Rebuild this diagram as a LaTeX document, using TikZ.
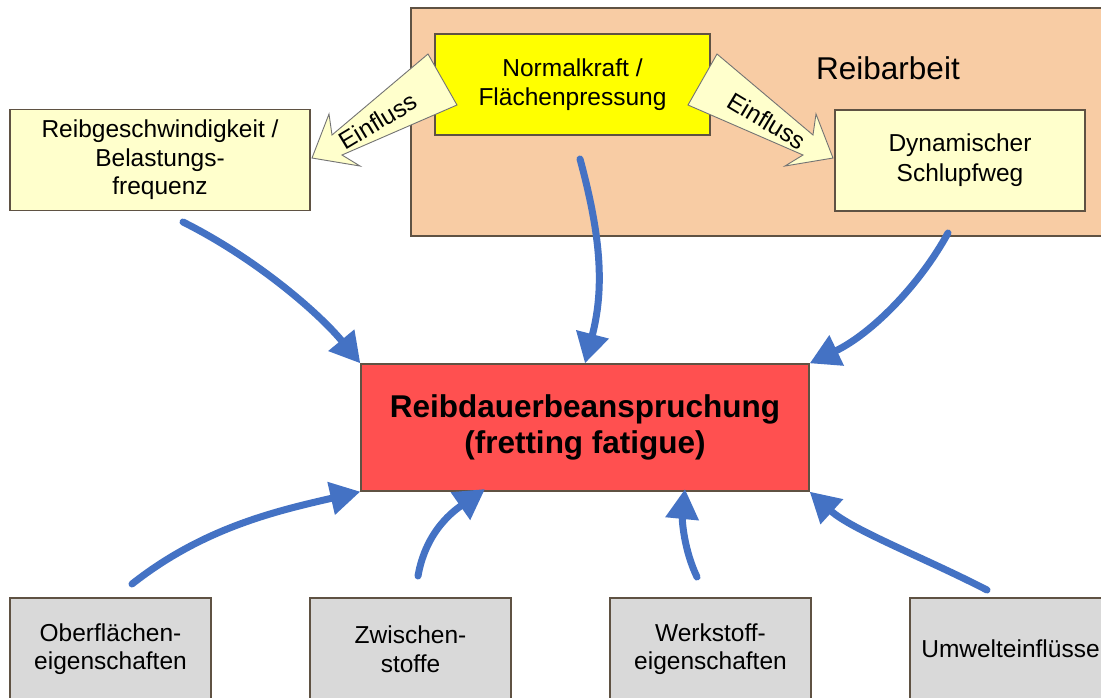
\documentclass[tikz,border=0pt]{standalone}
\usepackage{fontspec}
\setmainfont{Liberation Sans}
\usetikzlibrary{arrows.meta}
\definecolor{peach}{HTML}{F8CCA4}
\definecolor{hiyel}{HTML}{FFFF00}
\definecolor{ltyel}{HTML}{FFFFCC}
\definecolor{redbox}{HTML}{FF5050}
\definecolor{grybox}{HTML}{D9D9D9}
\definecolor{edge}{HTML}{5F5243}
\definecolor{arrblue}{HTML}{4472C4}
\newcommand\normtxt{\fontsize{24.5}{28.5}\selectfont}
\tikzset{
  box/.style={draw=edge, line width=1.3pt, inner sep=0pt, align=center, font=\normtxt},
  einfl/.style={draw=black!55, line width=0.9pt, fill=ltyel, line join=miter},
  bluearr/.style={draw=arrblue, line width=7pt, line cap=round, -{Triangle[length=30pt,width=32pt]}},
  lbl/.style={font=\normtxt, inner sep=0pt}
}
\begin{document}
\begin{tikzpicture}[x=1pt,y=-1pt]
\useasboundingbox (0,0) rectangle (1101,697);
\clip (0,0) rectangle (1101,697);
\fill[white] (0,0) rectangle (1101,697);

% boxes
\node[box, fill=peach, minimum width=700pt, minimum height=228pt] (reib) at (761,122) {};
\node[lbl, font=\fontsize{31.5}{36}\selectfont] (reibt) at (888,68) {Reibarbeit};
\node[box, fill=hiyel, minimum width=275pt, minimum height=101pt, font=\fontsize{24.5}{29}\selectfont] (norm) at (572.5,84.5) {Normalkraft /\\Flächenpressung};
\node[box, fill=ltyel, minimum width=300pt, minimum height=101pt] (geschw) at (160,160) {Reibgeschwindigkeit /\\Belastungs-\\frequenz};
\node[box, fill=ltyel, minimum width=250pt, minimum height=101pt, font=\fontsize{24.5}{30}\selectfont] (dyn) at (960,160.5) {Dynamischer\\Schlupfweg};
\node[box, fill=redbox, minimum width=448pt, minimum height=127pt, font=\fontsize{31.5}{36}\bfseries\selectfont] (fret) at (585,427.5) {Reibdauerbeanspruchung\\(fretting fatigue)};
\node[box, fill=grybox, minimum width=201pt, minimum height=102pt] (ober) at (110.5,649) {Oberflächen-\\eigenschaften};
\node[box, fill=grybox, minimum width=201pt, minimum height=102pt] (zw) at (410.5,649) {Zwischen-\\stoffe};
\node[box, fill=grybox, minimum width=201pt, minimum height=102pt] (werk) at (710.5,649) {Werkstoff-\\eigenschaften};
\node[box, fill=grybox, minimum width=201pt, minimum height=102pt] (umw) at (1010.5,649) {Umwelteinflüsse};

% Einfluss block arrows
\draw[einfl] (428,54) -- (332,135) -- (329,114) -- (312,158) -- (360,166) -- (342,155) -- (457,105) -- cycle;
\draw[einfl] (717,54) -- (813,135) -- (816,114) -- (833,158) -- (785,166) -- (803,155) -- (688,105) -- cycle;
\node[lbl, rotate=31] (einl) at (378,121) {Einfluss};
\node[lbl, rotate=-31] (einr) at (767,121) {Einfluss};

% connector start points
\coordinate (s1) at (183,222);
\coordinate (s2) at (580,159);
\coordinate (s3) at (948,233);
\coordinate (s4) at (132,584);
\coordinate (s5) at (418,576);
\coordinate (s6) at (697,577);
\coordinate (s7) at (987,590);
\coordinate (e5) at (485,489);
\coordinate (e6) at (685,489);

% blue arrows
\draw[bluearr] (s1) .. controls (255,258) and (318,312) .. (fret.north west);
\draw[bluearr] (s2) .. controls (602,240) and (604,290) .. (fret.north);
\draw[bluearr] (s3) .. controls (919,286) and (871,334) .. (fret.north east);
\draw[bluearr] (s4) .. controls (203,528) and (276,511) .. (fret.south west);
\draw[bluearr] (s5) .. controls (426,530) and (455,510) .. (e5);
\draw[bluearr] (s6) .. controls (684,550) and (682,520) .. (e6);
\draw[bluearr] (s7) .. controls (925,558) and (852,530) .. (fret.south east);
\end{tikzpicture}
\end{document}
